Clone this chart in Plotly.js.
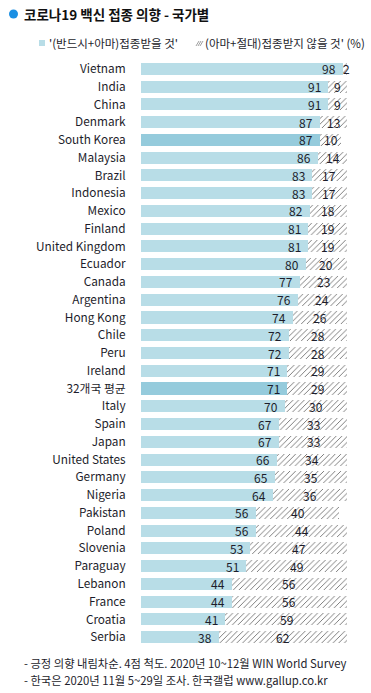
<!DOCTYPE html>
<html><head><meta charset="utf-8">
<script src="https://cdn.plot.ly/plotly-3.0.1.min.js"></script>
<style>html,body{margin:0;padding:0;background:#fff}#c{width:371px;height:693px}</style>
</head><body><div id="c"></div>
<script>
const countries = ["Vietnam","India","China","Denmark","South Korea","Malaysia","Brazil","Indonesia","Mexico","Finland","United Kingdom","Ecuador","Canada","Argentina","Hong Kong","Chile","Peru","Ireland","32개국 평균","Italy","Spain","Japan","United States","Germany","Nigeria","Pakistan","Poland","Slovenia","Paraguay","Lebanon","France","Croatia","Serbia"];
const yesVals = [98,91,91,87,87,86,83,83,82,81,81,80,77,76,74,72,72,71,71,70,67,67,66,65,64,56,56,53,51,44,44,41,38];
const noVals  = [2,9,9,13,10,14,17,17,18,19,19,20,23,24,26,28,28,29,29,30,33,33,34,35,36,40,44,47,49,56,56,59,62];
const highlighted = ["South Korea","32개국 평균"];
const legendYes = "'(반드시+아마)접종받을 것'";
const legendNo = "(아마+절대)접종받지 않을 것' (%)";
const titleText = "코로나19 백신 접종 의향 - 국가별";
const notes = ["- 긍정 의향 내림차순. 4점 척도. 2020년 10~12월 WIN World Survey","- 한국은 2020년 11월 5~29일 조사. 한국갤럽 www.gallup.co.kr"];

const FONT = "'Noto Sans CJK KR', 'Noto Sans', sans-serif";
const TXT = "#1d1d2b";
const cNormal = "#b8dde7", cHi = "#95cbdc";

const yesTrace = {
  type:'bar', orientation:'h', y:countries, x:yesVals,
  marker:{color:countries.map(c=>highlighted.includes(c)?cHi:cNormal), line:{width:0}},
  hoverinfo:'none', showlegend:false
};
const noTrace = {
  type:'bar', orientation:'h', y:countries, x:noVals,
  marker:{color:'white', line:{width:0}, pattern:{shape:'/', fgcolor:'#6e6e6e', bgcolor:'white', size:4, solidity:0.22}},
  hoverinfo:'none', showlegend:false
};

const annotations = [];
countries.forEach((c,i)=>{
  annotations.push({x:yesVals[i], y:c, xref:'x', yref:'y', text:String(yesVals[i]), showarrow:false, xanchor:'right', xshift:-6, borderpad:0, font:{family:FONT,size:12,color:TXT}});
  annotations.push({x:yesVals[i]+noVals[i]/2, y:c, xref:'x', yref:'y', text:String(noVals[i]), showarrow:false, xanchor:'center', xshift:noVals[i]<4?2:0, borderpad:0, font:{family:FONT,size:12,color:TXT}});
});
function px(xp){return (xp-141)/206;}
function py(yp){return 1-(yp-60)/586;}
annotations.push({xref:'paper', yref:'paper', x:px(22), xanchor:'left', y:py(14), yanchor:'middle', text:'<b>'+titleText+'</b>', showarrow:false, font:{family:FONT,size:13.5,color:'#111'}});
annotations.push({xref:'paper', yref:'paper', x:px(47), xanchor:'left', y:py(43), yanchor:'middle', text:legendYes, showarrow:false, font:{family:FONT,size:11.5,color:TXT}});
annotations.push({xref:'paper', yref:'paper', x:px(203), xanchor:'left', y:py(43), yanchor:'middle', text:legendNo, showarrow:false, font:{family:FONT,size:11.5,color:TXT}});
notes.forEach((n,k)=>{
  annotations.push({xref:'paper', yref:'paper', x:px(23), xanchor:'left', y:py(663+17*k), yanchor:'middle', text:n, showarrow:false, borderpad:0, font:{family:FONT,size:11.3,color:TXT}});
});

const shapes = [
  {type:'circle', xref:'paper', yref:'paper', x0:px(9), x1:px(18), y0:py(18.5), y1:py(9.5), fillcolor:'#1a8fe3', line:{width:0}},
  {type:'rect', xref:'paper', yref:'paper', x0:px(39), x1:px(45), y0:py(46), y1:py(40), fillcolor:cNormal, line:{width:0}},
];
for (let k=0;k<3;k++){
  shapes.push({type:'line', xref:'paper', yref:'paper', x0:px(196+2*k), y0:py(46), x1:px(199+2*k), y1:py(41), line:{color:'#888', width:0.8}});
}

const layout = {
  width:371, height:693,
  margin:{l:141, r:24, t:60, b:47, pad:0},
  barmode:'stack', bargap:0.32,
  paper_bgcolor:'white', plot_bgcolor:'white',
  showlegend:false,
  xaxis:{range:[0,100], visible:false, fixedrange:true},
  yaxis:{type:'category', range:[countries.length-0.5,-0.5], showgrid:false, zeroline:false, showline:false,
    ticks:'outside', ticklen:12, tickcolor:'rgba(0,0,0,0)', tickfont:{family:FONT,size:11.8,color:TXT}},
  annotations, shapes,
  font:{family:FONT}
};
Plotly.newPlot('c',[yesTrace,noTrace],layout,{staticPlot:true,displayModeBar:false});
</script></body></html>
